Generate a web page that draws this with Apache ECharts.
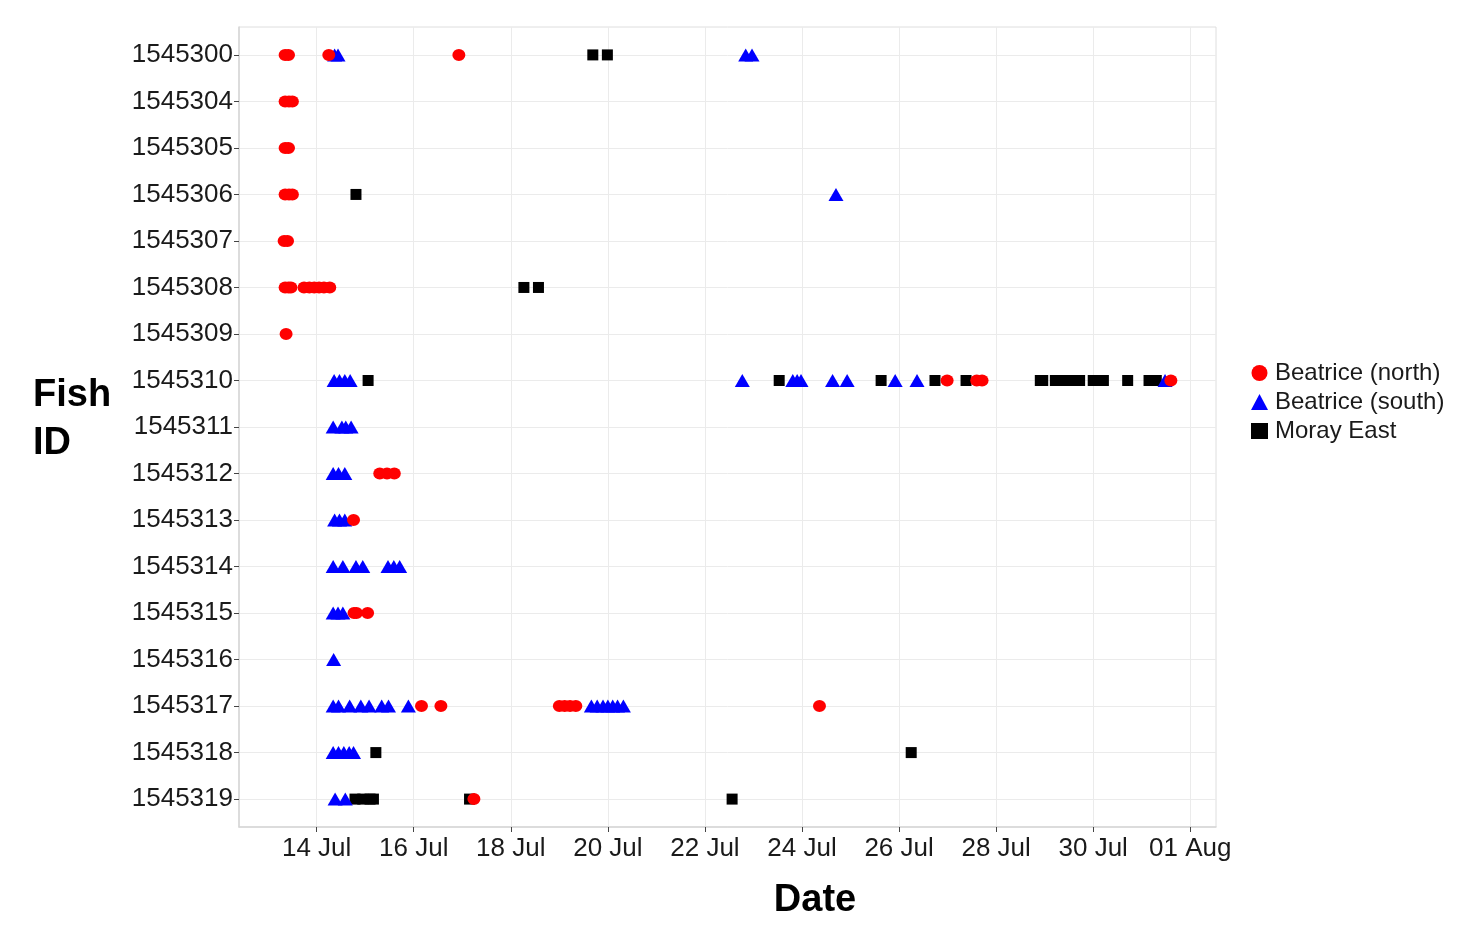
<!DOCTYPE html>
<html>
<head>
<meta charset="utf-8">
<title>Fish detections</title>
<script src="https://cdn.jsdelivr.net/npm/echarts@6/dist/echarts.min.js"></script>
<style>
  html, body { margin: 0; padding: 0; background: #fff; }
  #chart { width: 1472px; height: 930px; }
</style>
</head>
<body>
<div id="chart"></div>
<script>
// fish ids, top to bottom
var fishIds = ["1545300", "1545304", "1545305", "1545306", "1545307", "1545308", "1545309",
  "1545310", "1545311", "1545312", "1545313", "1545314", "1545315", "1545316",
  "1545317", "1545318", "1545319"];

// x ticks: day of July (32 = 01 Aug)
var xTickDays = [14, 16, 18, 20, 22, 24, 26, 28, 30, 32];
var xTickLabels = ["14 Jul", "16 Jul", "18 Jul", "20 Jul", "22 Jul", "24 Jul", "26 Jul", "28 Jul", "30 Jul", "01 Aug"];

// detections: [fish id, day of July]
var northData = [
  ["1545300", 13.35], ["1545300", 13.42], ["1545300", 14.25], ["1545300", 16.93],
  ["1545304", 13.35], ["1545304", 13.43], ["1545304", 13.50],
  ["1545305", 13.35], ["1545305", 13.42],
  ["1545306", 13.35], ["1545306", 13.43], ["1545306", 13.50],
  ["1545307", 13.33], ["1545307", 13.40],
  ["1545308", 13.35], ["1545308", 13.42], ["1545308", 13.47], ["1545308", 13.74], ["1545308", 13.85],
  ["1545308", 13.95], ["1545308", 14.05], ["1545308", 14.15], ["1545308", 14.27],
  ["1545309", 13.37],
  ["1545310", 26.99], ["1545310", 27.60], ["1545310", 27.71], ["1545310", 31.60],
  ["1545312", 15.30], ["1545312", 15.45], ["1545312", 15.60],
  ["1545313", 14.76],
  ["1545315", 14.77], ["1545315", 14.82], ["1545315", 15.05],
  ["1545317", 16.16], ["1545317", 16.56], ["1545317", 19.00], ["1545317", 19.11], ["1545317", 19.22],
  ["1545317", 19.34], ["1545317", 24.36],
  ["1545319", 17.24]
];

var southData = [
  ["1545300", 14.37], ["1545300", 14.44], ["1545300", 22.84], ["1545300", 22.97],
  ["1545306", 24.70],
  ["1545310", 14.36], ["1545310", 14.47], ["1545310", 14.58], ["1545310", 14.69], ["1545310", 22.77],
  ["1545310", 23.81], ["1545310", 23.90], ["1545310", 23.98], ["1545310", 24.63], ["1545310", 24.93],
  ["1545310", 25.92], ["1545310", 26.37], ["1545310", 31.48],
  ["1545311", 14.34], ["1545311", 14.52], ["1545311", 14.60], ["1545311", 14.71],
  ["1545312", 14.34], ["1545312", 14.45], ["1545312", 14.58],
  ["1545313", 14.37], ["1545313", 14.47], ["1545313", 14.58],
  ["1545314", 14.34], ["1545314", 14.54], ["1545314", 14.81], ["1545314", 14.95], ["1545314", 15.47],
  ["1545314", 15.59], ["1545314", 15.71],
  ["1545315", 14.34], ["1545315", 14.44], ["1545315", 14.54],
  ["1545316", 14.35],
  ["1545317", 14.34], ["1545317", 14.45], ["1545317", 14.68], ["1545317", 14.91], ["1545317", 15.08],
  ["1545317", 15.34], ["1545317", 15.48], ["1545317", 15.89], ["1545317", 19.66], ["1545317", 19.78],
  ["1545317", 19.90], ["1545317", 20.00], ["1545317", 20.10], ["1545317", 20.20], ["1545317", 20.32],
  ["1545318", 14.34], ["1545318", 14.45], ["1545318", 14.56], ["1545318", 14.67], ["1545318", 14.76],
  ["1545319", 14.38], ["1545319", 14.59]
];

var morayData = [
  ["1545300", 19.69], ["1545300", 19.99],
  ["1545306", 14.81],
  ["1545308", 18.27], ["1545308", 18.57],
  ["1545310", 15.06], ["1545310", 23.53], ["1545310", 25.63], ["1545310", 26.74], ["1545310", 27.38],
  ["1545310", 28.91], ["1545310", 28.96], ["1545310", 29.22], ["1545310", 29.34], ["1545310", 29.46],
  ["1545310", 29.59], ["1545310", 29.72], ["1545310", 30.00], ["1545310", 30.10], ["1545310", 30.21],
  ["1545310", 30.71], ["1545310", 31.15], ["1545310", 31.30],
  ["1545318", 15.22], ["1545318", 26.25],
  ["1545319", 14.79], ["1545319", 14.95], ["1545319", 15.10], ["1545319", 15.17], ["1545319", 17.15],
  ["1545319", 22.56]
];

var FONT = "'Liberation Sans', Arial, sans-serif";

//转换为 [x, y索引]
function toPoints(arr) {
  return arr.map(function(d) {
    return [d[1], fishIds.indexOf(d[0])];
  });
}

var chart = echarts.init(document.getElementById("chart"));
var yIdx = fishIds.map(function(f, i) { return i; });

var option = {
  backgroundColor: "#fff",
  animation: false,
  grid: {
    left: 239,
    right: 256,
    top: 27,
    bottom: 103,
    show: true,
    borderColor: "#dedede",
    borderWidth: 1
  },
  legend: {
    orient: "vertical",
    left: 1246,
    top: 356,
    itemWidth: 17,
    itemHeight: 16,
    itemGap: 5,
    textStyle: { fontFamily: FONT, fontSize: 24, color: "#1a1a1a", padding: [0, 0, 0, 2] },
    data: ["Beatrice (north)", "Beatrice (south)", "Moray East"]
  },
  xAxis: {
    type: "value",
    min: 12.40,
    max: 32.53,
    axisLine: { show: true, onZero: false, lineStyle: { color: "#d6d6d6", width: 1.5 } },
    axisTick: { show: true, length: 5, customValues: xTickDays, lineStyle: { color: "#444" } },
    axisLabel: {
      customValues: xTickDays,
      margin: 9,
      fontFamily: FONT,
      fontSize: 26,
      color: "#1a1a1a",
      formatter: function(v) {
        var i = xTickDays.indexOf(Math.round(v));
        return i >= 0 ? xTickLabels[i] : "";
      }
    },
    splitLine: { show: true, lineStyle: { color: "#ebebeb", width: 1 } }
  },
  yAxis: {
    type: "value",
    inverse: true,
    min: -0.6,
    max: 16.6,
    axisLine: { show: true, onZero: false, lineStyle: { color: "#d6d6d6", width: 1.5 } },
    axisTick: { show: true, length: 5, customValues: yIdx, lineStyle: { color: "#444" } },
    axisLabel: {
      customValues: yIdx,
      margin: 6,
      fontFamily: FONT,
      fontSize: 26,
      color: "#1a1a1a",
      formatter: function(v) {
        return fishIds[Math.round(v)] || "";
      }
    },
    splitLine: { show: true, lineStyle: { color: "#ebebeb", width: 1 } }
  },
  graphic: [
    {
      type: "text",
      left: 33,
      top: 372,
      style: {
        text: "Fish\nID",
        font: "bold 38px " + FONT,
        lineHeight: 48,
        fill: "#000"
      }
    },
    {
      type: "text",
      x: 815,
      y: 882,
      style: {
        text: "Date",
        font: "bold 38px " + FONT,
        fill: "#000",
        textAlign: "center",
        textVerticalAlign: "top"
      }
    }
  ],
  series: [
    {
      name: "Beatrice (north)",
      type: "scatter",
      symbol: "circle",
      symbolSize: [13, 12],
      z: 4,
      itemStyle: { color: "#ff0000", opacity: 1 },
      data: toPoints(northData)
    },
    {
      name: "Beatrice (south)",
      type: "scatter",
      symbol: "triangle",
      symbolSize: [15, 13],
      z: 3,
      itemStyle: { color: "#0000ff", opacity: 1 },
      data: toPoints(southData)
    },
    {
      name: "Moray East",
      type: "scatter",
      symbol: "rect",
      symbolSize: 11,
      z: 2,
      itemStyle: { color: "#000000", opacity: 1 },
      data: toPoints(morayData)
    }
  ]
};

chart.setOption(option);
</script>
</body>
</html>
